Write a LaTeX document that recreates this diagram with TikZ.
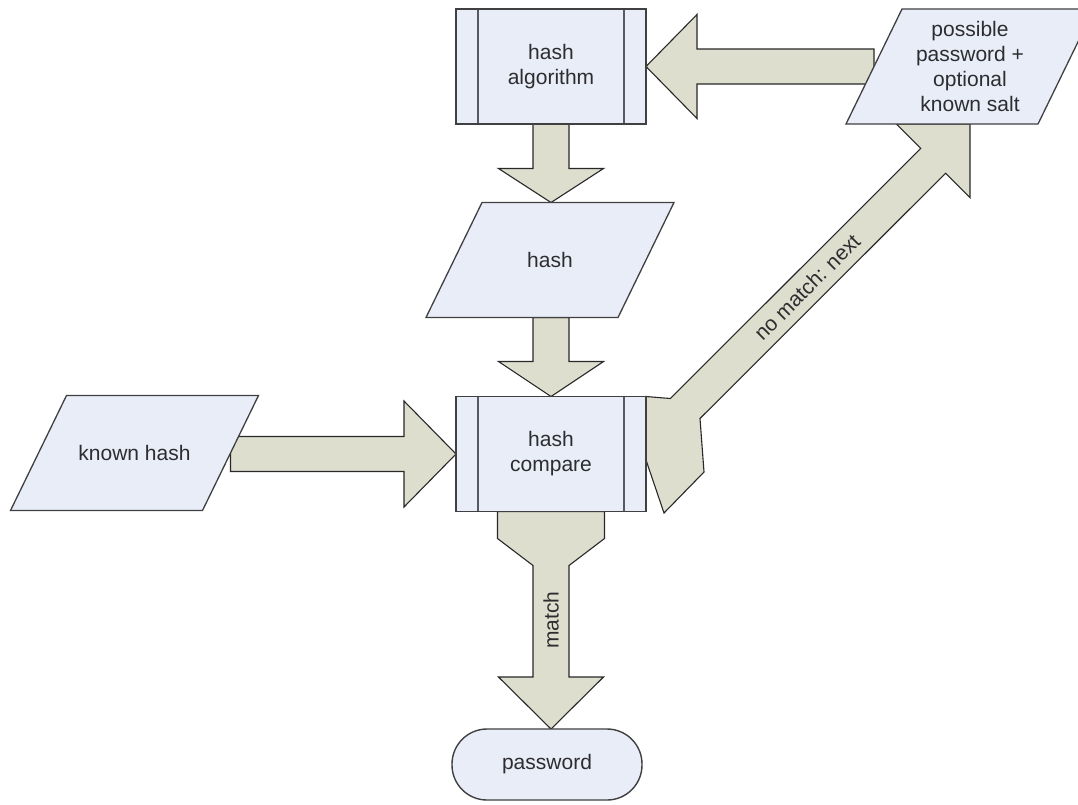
\documentclass[tikz,border=0pt]{standalone}
\usepackage{fontspec}
\setmainfont{Liberation Sans}
\usetikzlibrary{calc}
\pgfdeclarelayer{arrows}
\pgfdeclarelayer{shapes}
\pgfsetlayers{arrows,shapes,main}
\definecolor{boxfill}{RGB}{233,237,248}
\definecolor{boxline}{RGB}{64,64,66}
\definecolor{innerline}{RGB}{88,88,96}
\definecolor{arrowfill}{RGB}{221,222,205}
\definecolor{arrowline}{RGB}{40,40,40}
\definecolor{txt}{RGB}{45,45,48}
\tikzset{
  lbl/.style={font=\fontsize{21}{25}\selectfont, text=txt},
  procbox/.style={lbl, draw=boxline, fill=boxfill, line width=1.4pt,
    minimum width=190pt, minimum height=115pt, align=center,
    outer sep=0pt, inner sep=0pt,
    path picture={\draw[line width=2pt, draw=innerline]
      ([xshift=22pt]path picture bounding box.north west) -- ([xshift=22pt]path picture bounding box.south west)
      ([xshift=-22pt]path picture bounding box.north east) -- ([xshift=-22pt]path picture bounding box.south east);}},
  paratext/.style={lbl, minimum width=192pt, minimum height=115pt, align=center,
    outer sep=0pt, inner sep=0pt},
  parashape/.style={draw=boxline, fill=boxfill, line width=1.3pt, line join=miter},
  termbox/.style={lbl, draw=boxline, fill=boxfill, line width=1.4pt, rounded corners=35pt,
    minimum width=190pt, minimum height=71pt, outer sep=0pt, inner sep=0pt},
  fat/.style={draw=arrowline, fill=arrowfill, line width=1.1pt, line join=miter},
  onarrow/.style={lbl, inner sep=0pt},
}
\newcommand\paraof[2]{%
  \begin{pgfonlayer}{shapes}
    \draw[parashape] ($(#1.north west)+(#2,0)$) -- ($(#1.north east)+(#2,0)$)
      -- ($(#1.south east)+(-#2,0)$) -- ($(#1.south west)+(-#2,0)$) -- cycle;
  \end{pgfonlayer}}
\begin{document}
\begin{tikzpicture}[x=1pt,y=-1pt]
\useasboundingbox (0,0) rectangle (1078,804);
% nodes
\node[procbox] (ha) at (551,66.5) {hash\\algorithm};
\node[paratext] (pp) at (970,66.5) {possible\\password +\\optional\\known salt};
\node[paratext] (h) at (550,260) {hash};
\node[procbox] (hc) at (551,454) {hash\\compare};
\node[paratext] (kh) at (134.5,453) {known hash};
\node[termbox] (pw) at (547,764.5) {password};
\paraof{pp}{28}
\paraof{h}{28}
\paraof{kh}{28}
% arrows
\coordinate (t2) at (ha.south |- h.north);
\coordinate (t3) at (hc.north);
\coordinate (t5) at (hc.south |- pw.north);
\coordinate (t6) at (pp.south);
\begin{pgfonlayer}{arrows}
\fill[white] (0,0) rectangle (1078,804);
% possible password -> hash algorithm
\draw[fat] (ha.east) -- ++(51,-52) -- ++(0,34.5) -- ($(pp.west)+(0,-17.5)$)
  -- ($(pp.west)+(0,17.5)$) -- ($(ha.east)+(51,17.5)$) -- ($(ha.east)+(51,52)$) -- cycle;
% hash algorithm -> hash
\draw[fat] (t2) -- ++(-52.5,-34) -- ++(34.5,0) -- ($(ha.south)+(-18,0)$)
  -- ($(ha.south)+(18,0)$) -- ($(t2)+(18,-34)$) -- ($(t2)+(52.5,-34)$) -- cycle;
% hash -> hash compare
\draw[fat] (t3) -- ++(-52.5,-35) -- ++(34.5,0) -- ($(t3 |- h.south)+(-18,0)$)
  -- ($(t3 |- h.south)+(18,0)$) -- ($(t3)+(18,-35)$) -- ($(t3)+(52.5,-35)$) -- cycle;
% known hash -> hash compare
\draw[fat] (hc.west) -- ++(-52,-53) -- ++(0,35.5) -- ($(kh.east |- hc.west)+(0,-17.5)$)
  -- ($(kh.east |- hc.west)+(0,17.5)$) -- ($(hc.west)+(-52,17.5)$) -- ($(hc.west)+(-52,53)$) -- cycle;
% hash compare -> password (match)
\draw[fat] ($(hc.south)+(-53.5,0)$) -- ($(hc.south)+(-53.5,27)$) -- ($(hc.south)+(-18,54)$)
  -- ($(t5)+(-18,-52)$) -- ($(t5)+(-52.5,-52)$) -- (t5) -- ($(t5)+(52.5,-52)$)
  -- ($(t5)+(18,-52)$) -- ($(hc.south)+(18,54)$) -- ($(hc.south)+(53.5,27)$)
  -- ($(hc.south)+(53.5,0)$) -- cycle;
% hash compare -> possible password (no match)
\draw[fat] (hc.north east) -- ($(hc.north east)+(24.3,2)$) -- ($(t6)+(-49.2,24.4)$)
  -- ($(t6)+(-73.6,0)$) -- (t6) -- ($(t6)+(0,73.6)$) -- ($(t6)+(-24.4,49.2)$)
  -- ($(hc.north east)+(54,22)$) -- ($(hc.east)+(58,18)$) -- ($(hc.east)+(18,59)$)
  -- ($(hc.east)+(0,6)$) -- cycle;
\end{pgfonlayer}
% arrow labels
\node[onarrow, rotate=90] (ml) at ($(hc.south)!0.5!(t5)$) {match};
\node[onarrow, rotate=45] (nl) at ($(t6)+(-163,163)$) {no match: next};
\end{tikzpicture}
\end{document}
